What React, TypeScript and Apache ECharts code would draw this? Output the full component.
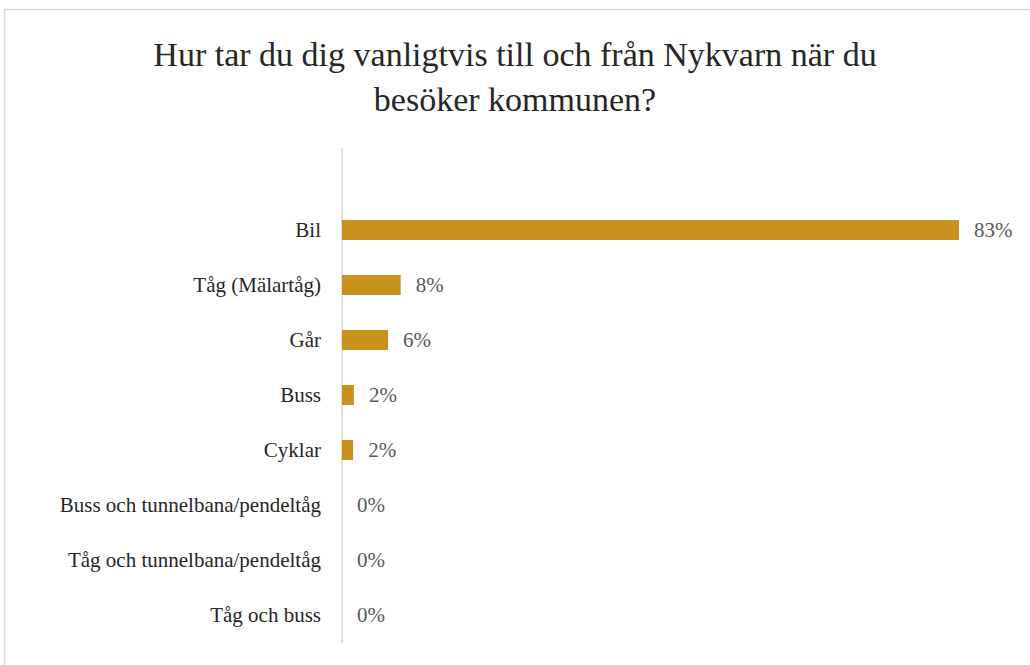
import React, { useEffect, useRef } from "react";
import * as echarts from "echarts";

const titleLines = ["Hur tar du dig vanligtvis till och från Nykvarn när du", "besöker kommunen?"];
const categories = [
  "Bil",
  "Tåg (Mälartåg)",
  "Går",
  "Buss",
  "Cyklar",
  "Buss och tunnelbana/pendeltåg",
  "Tåg och tunnelbana/pendeltåg",
  "Tåg och buss",
];
const values = [83.0, 7.9, 6.2, 1.6, 1.5, 0, 0, 0];

const FONT = "'Liberation Serif', 'DejaVu Serif', serif";

export default function App() {
  const ref = useRef<HTMLDivElement>(null);
  useEffect(() => {
    document.body.style.margin = "0";
    const chart = echarts.init(ref.current!, undefined, { renderer: "svg" });
    const gridLeft = 342;
    const gridTop = 202.5;
    const gridBottom = 665 - 642.5;
    chart.setOption({
      animation: false,
      backgroundColor: "#ffffff",
      title: {
        text: titleLines.join("\n"),
        left: "center",
        top: 27,
        textStyle: {
          fontFamily: FONT,
          fontSize: 34,
          fontWeight: "normal",
          color: "#262626",
          lineHeight: 45,
        },
      },
      grid: { left: gridLeft, right: 19, top: gridTop, bottom: gridBottom, containLabel: false },
      xAxis: {
        type: "value",
        min: 0,
        max: 90,
        show: false,
      },
      yAxis: {
        type: "category",
        data: categories,
        inverse: true,
        axisLine: { show: false },
        axisTick: { show: false },
        axisLabel: {
          margin: 21,
          fontFamily: FONT,
          fontSize: 21,
          color: "#262626",
        },
        splitLine: { show: false },
      },
      series: [
        {
          type: "bar",
          data: values,
          barWidth: 20,
          itemStyle: { color: "#C8921C" },
          label: {
            show: true,
            position: "right",
            distance: 15,
            fontFamily: FONT,
            fontSize: 21,
            color: "#595959",
            formatter: (p: any) => Math.round(p.value) + "%",
          },
        },
      ],
      graphic: [
        {
          type: "rect",
          shape: { x: 4.5, y: 9.5, width: 1100, height: 800 },
          style: { fill: "none", stroke: "#d9d9d9", lineWidth: 1.5 },
          silent: true,
        },
        {
          type: "line",
          shape: { x1: 342, y1: 148, x2: 342, y2: 643 },
          style: { stroke: "#d9d9d9", lineWidth: 1.5 },
          silent: true,
        },
      ],
    });
    return () => chart.dispose();
  }, []);
  return <div ref={ref} style={{ width: 1030, height: 665 }} />;
}
